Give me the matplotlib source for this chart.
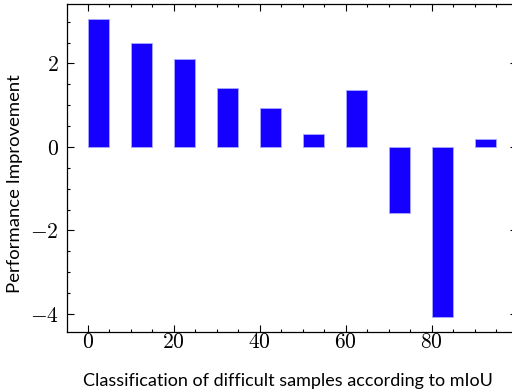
import matplotlib
matplotlib.use("Agg")
import matplotlib.pyplot as plt
from matplotlib.ticker import MultipleLocator, FuncFormatter

bins = [0, 10, 20, 30, 40, 50, 60, 70, 80, 90]
improvement = [3.06, 2.48, 2.11, 1.41, 0.94, 0.32, 1.37, -1.59, -4.07, 0.20]
xlabel = "Classification of difficult samples according to mIoU"
ylabel = "Performance Improvement"

plt.rcParams['mathtext.fontset'] = 'cm'

fig = plt.figure(figsize=(5.12, 3.92), dpi=100)
ax = fig.add_axes([67.3/512, 1 - 331.7/392, 449.3/512, (331.7 - 4.3)/392])

ax.bar(bins, improvement, width=5, align='edge', color='#1500FF',
       edgecolor='#a8a8ff', linewidth=0.6)

ax.xaxis.set_major_locator(MultipleLocator(20))
ax.xaxis.set_minor_locator(MultipleLocator(5))
ax.yaxis.set_major_locator(MultipleLocator(2))
ax.yaxis.set_minor_locator(MultipleLocator(0.5))

fmt = FuncFormatter(lambda v, p: r"$%d$" % round(v))
ax.xaxis.set_major_formatter(fmt)
ax.yaxis.set_major_formatter(fmt)

ax.tick_params(which='both', direction='in', top=True, right=True, width=0.8)
ax.tick_params(which='major', length=4.8, labelsize=15.5)
ax.tick_params(axis='x', which='major', pad=0.5)
ax.tick_params(axis='y', which='major', pad=6)
ax.tick_params(which='minor', length=2.4)
for s in ax.spines.values():
    s.set_linewidth(0.9)
ax.spines['right'].set_visible(False)

ax.set_xlabel(xlabel, fontfamily='Lato', fontsize=13.0, va='center', ha='center')
ax.set_ylabel(ylabel, fontfamily='Lato', fontsize=13.3, va='center', ha='center')
ax.xaxis.set_label_coords(0.490, -0.1506)
ax.yaxis.set_label_coords(-0.1164, 0.4527)

fig.savefig("out.png", dpi=100)
